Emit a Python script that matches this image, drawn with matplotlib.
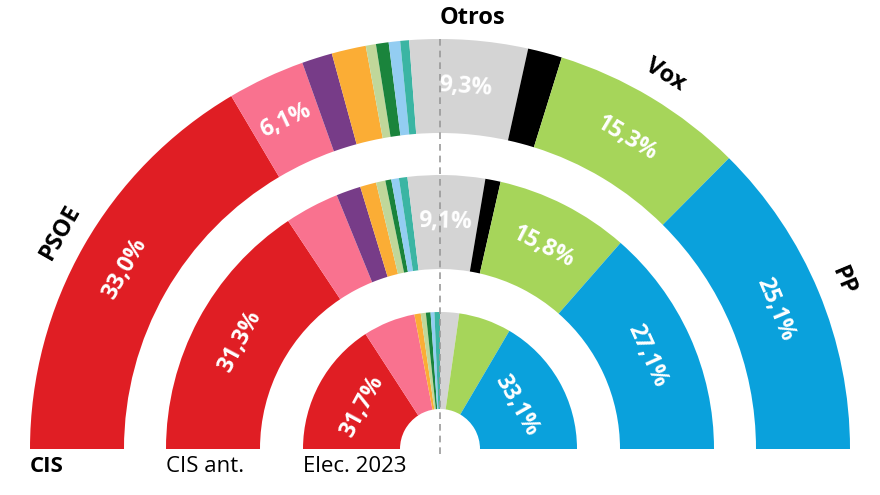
import numpy as np
import matplotlib.pyplot as plt

plt.rcParams['font.family'] = ['Open Sans', 'DejaVu Sans']

# party order around the half circle, left to right
parties = ['PSOE', 'Sumar', 'Podemos', 'ERC', 'Junts', 'Bildu', 'PNV', 'BNG', 'Otros', 'SALF', 'Vox', 'PP']
colors = ['#e01e24', '#f9728f', '#773c88', '#fbad35', '#c0d79a', '#1a843c',
          '#93cdf2', '#3bb5a3', '#d4d4d4', '#000000', '#a6d55a', '#0aa1dc']

cis = [33.0, 6.1, 2.4, 2.7, 0.8, 1.0, 0.9, 0.7, 9.3, 2.7, 15.3, 25.1]
cis_ant = [31.3, 6.4, 2.9, 1.9, 1.1, 0.7, 0.9, 1.0, 9.1, 1.8, 15.8, 27.1]
elec_2023 = [31.7, 12.3, 0.0, 1.5, 1.2, 1.1, 0.9, 1.3, 4.5, 0.0, 12.4, 33.1]

ring_names = ['CIS', 'CIS ant.', 'Elec. 2023']
ring_data = [cis, cis_ant, elec_2023]
radii = [410, 274, 137]
widths = [94, 94, 97]
labelled = [
    ['PSOE', 'Sumar', 'Otros', 'Vox', 'PP'],
    ['PSOE', 'Otros', 'Vox', 'PP'],
    ['PSOE', 'PP'],
]

cx, cy = 440, 46

fig = plt.figure(figsize=(8.8, 4.95), dpi=100)
ax = fig.add_axes([0, 0, 1, 1])

for vals, r, w, labs in zip(ring_data, radii, widths, labelled):
    ax.pie(vals + [100], radius=r, center=(cx, cy), colors=colors + ['none'],
           startangle=180, counterclock=False,
           wedgeprops=dict(width=w, linewidth=0))
    # percentage labels along the ring
    ends = np.cumsum(vals)
    starts = ends - np.array(vals)
    mid_r = r - w / 2
    for p, v, s, e in zip(parties, vals, starts, ends):
        if p not in labs:
            continue
        theta = 180 - (s + e) / 2 * 1.8
        t = np.radians(theta)
        ax.text(cx + mid_r * np.cos(t), cy + mid_r * np.sin(t),
                f'{v:.1f}%'.replace('.', ','), color='white', fontsize=16.5,
                fontweight='bold', ha='center', va='center',
                rotation=theta - 90, rotation_mode='anchor')

# party names outside the outer ring
ends = np.cumsum(cis)
starts = ends - np.array(cis)
for p in ['PSOE', 'Vox', 'PP']:
    i = parties.index(p)
    theta = 180 - (starts[i] + ends[i]) / 2 * 1.8
    t = np.radians(theta)
    ax.text(cx + 437 * np.cos(t), cy + 437 * np.sin(t), p, fontsize=17,
            fontweight='bold', ha='center', va='center',
            rotation=theta - 90, rotation_mode='anchor')
ax.text(472, 477, 'Otros', fontsize=17, fontweight='bold', ha='center', va='center')

# centre dashed line
ax.plot([cx, cx], [cy - 5, cy + 412], color='#999999', lw=1.2, ls=(0, (4, 3)))

# ring names along the bottom
for name, r, w in zip(ring_names, radii, widths):
    ax.text(cx - r, 28, name, fontsize=16, ha='left', va='center',
            fontweight='bold' if name == 'CIS' else 'normal')

ax.set_xlim(0, 880)
ax.set_ylim(0, 495)
ax.set_aspect('auto')
ax.axis('off')

plt.savefig('out.png', dpi=100)
